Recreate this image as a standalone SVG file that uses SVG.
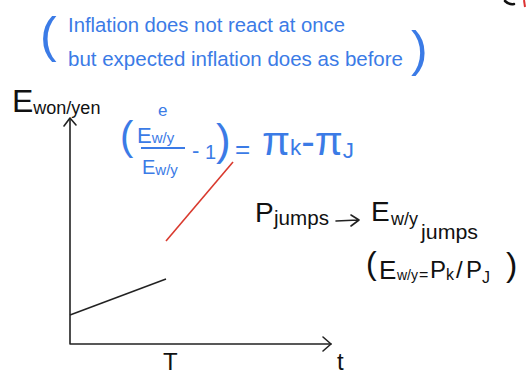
<svg xmlns="http://www.w3.org/2000/svg" width="527" height="375" viewBox="0 0 527 375">
<style>
.b{fill:#3b7be6;font-family:"Liberation Sans",Arial,sans-serif}
.k{fill:#111;font-family:"Liberation Sans",Arial,sans-serif}
.ax{stroke:#222;stroke-width:1.6;fill:none;stroke-linecap:round;stroke-linejoin:round}
</style>
<rect width="527" height="375" fill="#fff"/>
<g id="corner">
<path d="M505 1 Q509 5 514 4" stroke="#111" stroke-width="2.5" fill="none" stroke-linecap="round"/>
<path d="M524 0 L525 7" stroke="#d33" stroke-width="2" fill="none"/>
</g>
<g id="note">
<text class="b" x="40" y="52" font-size="50">(</text>
<text class="b" x="68" y="32" font-size="20.5" textLength="277" lengthAdjust="spacingAndGlyphs">Inflation does not react at once</text>
<text class="b" x="68" y="66" font-size="20.5" textLength="335" lengthAdjust="spacingAndGlyphs">but expected inflation does as before</text>
<text class="b" x="411" y="66" font-size="50">)</text>
</g>
<g id="axes">
<path class="ax" d="M70 119 L70 344 L331 344"/>
<path class="ax" d="M64 126 L70 118 L76 125"/>
<path class="ax" d="M323 337 L331 344 L323 351"/>
<text class="k" x="12" y="112" font-size="32">E<tspan font-size="18" dy="2">won/yen</tspan></text>
<text class="k" x="163" y="370" font-size="24">T</text>
<text class="k" x="337" y="370" font-size="24">t</text>
</g>
<g id="lines">
<path d="M70 315 L166 279" stroke="#222" stroke-width="1.5" fill="none"/>
<path d="M166 241 L233 162" stroke="#d93a2e" stroke-width="1.6" fill="none"/>
<path class="ax" d="M336 221 L358 220 M351 215 L359 220 L351 226" stroke-width="2.5" stroke="#111"/>
</g>
<g id="formula">
<text class="b" x="120" y="150" font-size="40">(</text>
<text class="b" x="137" y="143" font-size="22">E<tspan font-size="15">w/y</tspan></text>
<text class="b" x="158" y="116" font-size="17">e</text>
<path d="M141 148 L185 148" stroke="#3b7be6" stroke-width="2"/>
<text class="b" x="142" y="174" font-size="20">E<tspan font-size="15" dy="1">w/y</tspan></text>
<text class="b" x="192" y="158" font-size="22">-</text>
<text class="b" x="205" y="159" font-size="20">1</text>
<text class="b" x="216" y="155" font-size="44">)</text>
<text class="b" x="235" y="158" font-size="26">=</text>
<text class="b" x="262" y="155" font-size="40" textLength="92" lengthAdjust="spacingAndGlyphs">π<tspan font-size="22">k</tspan>-π<tspan font-size="22" dy="3">J</tspan></text>
</g>
<g id="jump">
<text class="k" x="255" y="222" font-size="28">P</text>
<text class="k" x="274" y="225" font-size="20" textLength="55" lengthAdjust="spacingAndGlyphs">jumps</text>
<text class="k" x="371" y="221" font-size="28">E</text>
<text class="k" x="391" y="225" font-size="18" textLength="27" lengthAdjust="spacingAndGlyphs">w/y</text>
<text class="k" x="421" y="239" font-size="20" textLength="57" lengthAdjust="spacingAndGlyphs">jumps</text>
<text class="k" x="366" y="274" font-size="32">(</text>
<text class="k" x="379" y="279" font-size="26">E</text>
<text class="k" x="397" y="280" font-size="14">w/y</text>
<text class="k" x="419" y="280" font-size="16">=</text>
<text class="k" x="430" y="278" font-size="24">P</text>
<text class="k" x="446" y="280" font-size="16">k</text>
<text class="k" x="456" y="278" font-size="24">/</text>
<text class="k" x="466" y="278" font-size="24">P</text>
<text class="k" x="482" y="283" font-size="16">J</text>
<text class="k" x="506" y="276" font-size="34">)</text>
</g>
</svg>
